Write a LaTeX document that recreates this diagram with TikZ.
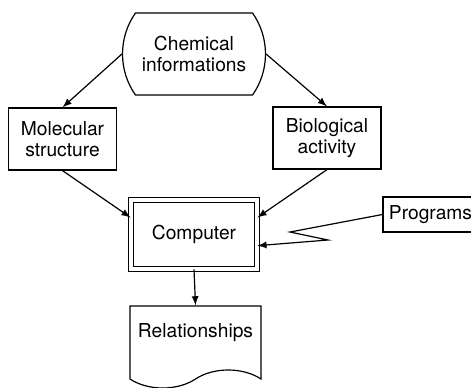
\documentclass[tikz,border=0pt]{standalone}
\usepackage{fontspec}
\setmainfont{TeX Gyre Heros}
\usetikzlibrary{shapes.misc,shapes.symbols}

\begin{document}
\begin{tikzpicture}[x=0.5pt, y=-0.5pt, line width=0.6pt, >=latex,
      every node/.style = {draw, align=center, inner sep=1pt,
        font=\fontsize{9.6}{10.5}\selectfont},
      infobox/.style = {rectangle, minimum width=54pt, minimum height=31pt}]
  \useasboundingbox (0,0) rectangle (471,387);
  \node[rounded rectangle, rounded rectangle arc length=70,
    minimum width=66pt, minimum height=41pt] (chem) at (194,54) {Chemical\\informations};
  \node[infobox] (mol) at (62.5,139) {Molecular\\structure};
  \node[infobox] (bio) at (327,138) {Biological\\activity};
  \node[double, double distance=1.8pt, minimum width=62.75pt,
    minimum height=34.25pt] (comp) at (194,234.5) {Computer};
  \node[minimum width=47.5pt, minimum height=17.5pt] (prog) at (430.5,214.5) {Programs};
  \node[tape, tape bend top=none, tape bend bottom=in and out, tape bend height=9pt,
    minimum width=65.5pt, minimum height=41pt, text depth=8pt] (rel) at (195.5,338) {Relationships};
  \coordinate (zag1) at (290,232);
  \coordinate (zag2) at (328,240);
  \draw[->] (chem.west) -- (mol.north);
  \draw[->] (chem.east) -- (bio.north);
  \draw[->] (mol.south) -- (comp.165);
  \draw[->] (bio.south) -- (comp.15);
  \draw[->] (prog.west) -- (zag1) -- (zag2) -- (comp.350);
  \draw[->] (comp.south) -- (rel.north);
\end{tikzpicture}
\end{document}
